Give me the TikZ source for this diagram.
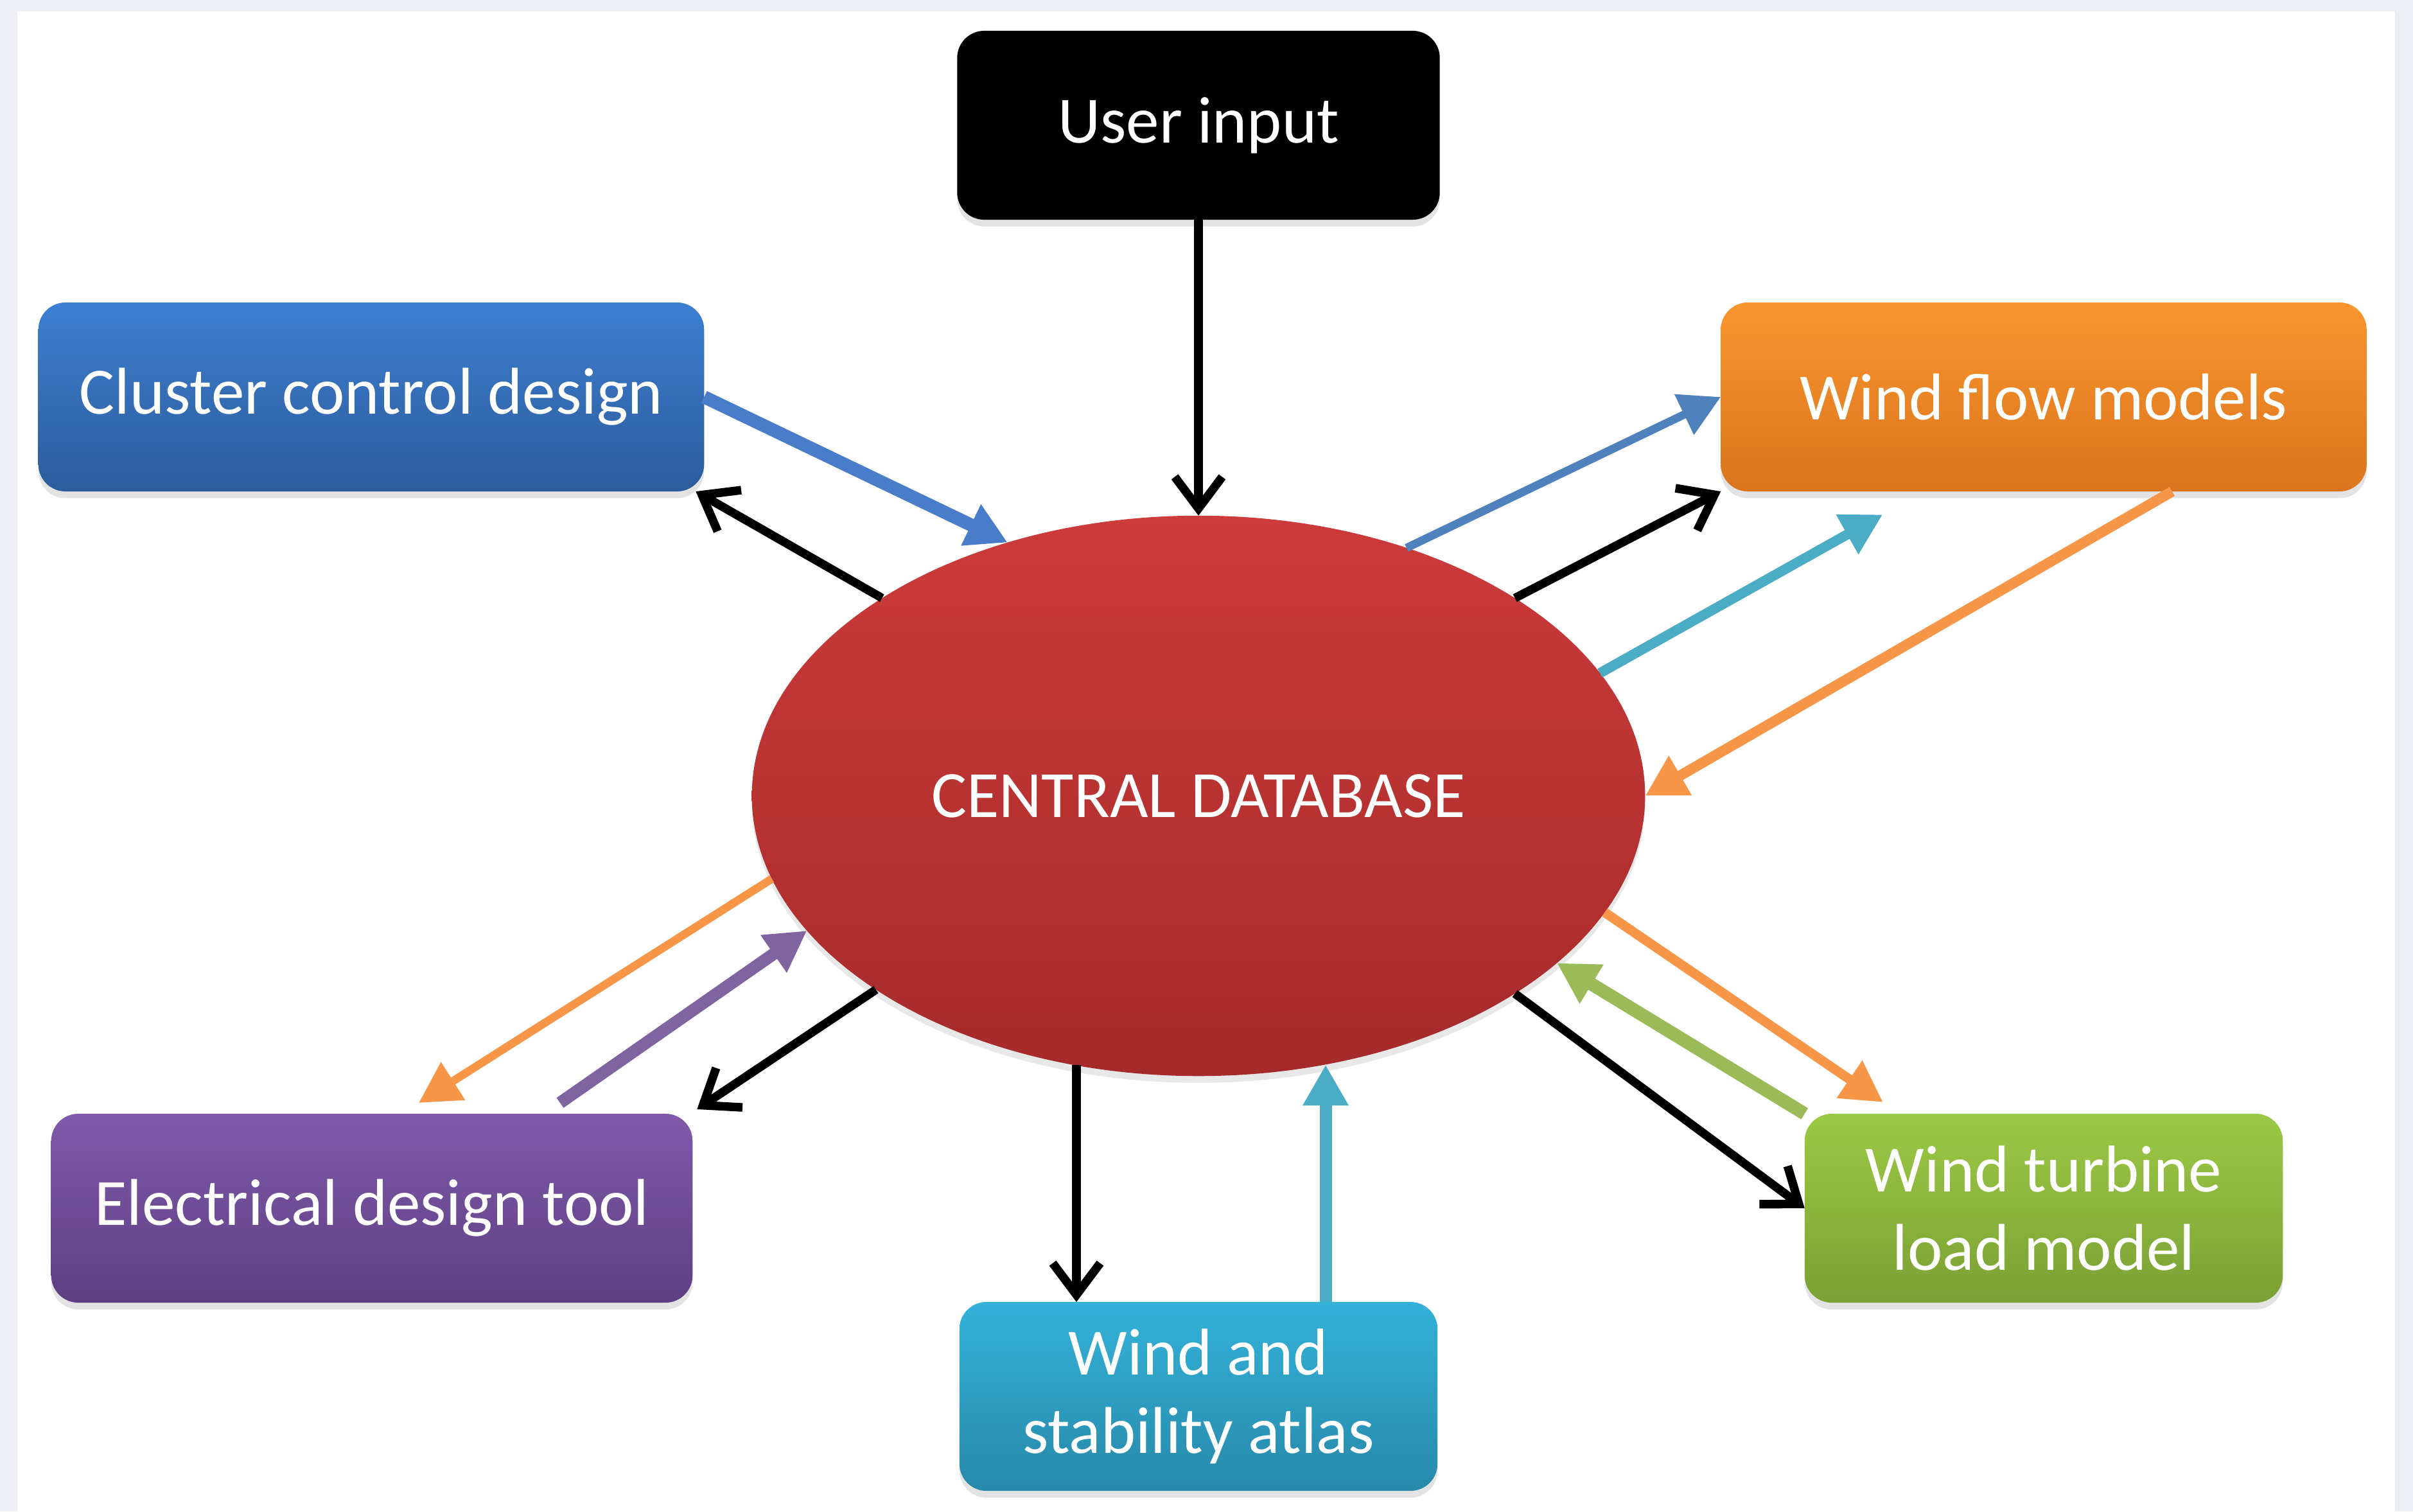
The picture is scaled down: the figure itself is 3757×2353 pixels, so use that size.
\documentclass[tikz,border=0pt]{standalone}
\usepackage{fontspec}
\setmainfont{Carlito}
\usetikzlibrary{arrows.meta,calc,shapes.geometric,shadows}
\definecolor{bgray}{HTML}{EDEFF4}
\definecolor{clT}{HTML}{3D7FD1}\definecolor{clB}{HTML}{2C5C9C}
\definecolor{wfT}{HTML}{F9962F}\definecolor{wfB}{HTML}{DB741D}
\definecolor{elT}{HTML}{7F5AAA}\definecolor{elB}{HTML}{5D3F82}
\definecolor{atT}{HTML}{34B2DA}\definecolor{atB}{HTML}{2789A9}
\definecolor{tbT}{HTML}{9CC945}\definecolor{tbB}{HTML}{7BA034}
\definecolor{dbT}{HTML}{CD3B3B}\definecolor{dbB}{HTML}{A52A2A}
\definecolor{aBlue}{HTML}{4A7DC9}
\definecolor{aSteel}{HTML}{4F81BD}
\definecolor{aCyan}{HTML}{4BACC6}
\definecolor{aOrange}{HTML}{F79646}
\definecolor{aPurple}{HTML}{8064A2}
\definecolor{aGreen}{HTML}{9BBB59}
\begin{document}
\begin{tikzpicture}[x=0.01cm,y=-0.01cm,
  txt/.style={text=white, font=\fontsize{29.3}{34.5}\selectfont, align=center},
  box/.style={txt, rectangle, rounded corners=12pt, inner sep=0pt, outer sep=0pt,
    minimum height=2.94cm,
    drop shadow={opacity=0.22, shadow xshift=0pt, shadow yshift=-3pt}},
  blk/.style={draw=black, line width=3.8pt, -{Straight Barb[length=14pt,width=21pt]}},
  colarrow/.style={line width=#1, -{Triangle[length=18pt,width=19pt]}},
  colarrow/.default=4.4pt]
\fill[bgray] (0,0) rectangle (3757,2353);
\fill[white] (27,18) rectangle (3729,2353);
\useasboundingbox (0,0) rectangle (3757,2353);

% nodes
\node[box, minimum width=7.51cm, fill=black] (ui) at (1866,195) {User input};
\node[box, minimum width=10.36cm, top color=clT, bottom color=clB] (cl) at (578,618) {Cluster control design};
\node[box, minimum width=10.05cm, top color=wfT, bottom color=wfB] (wf) at (3182,618) {Wind flow models};
\node[box, minimum width=9.98cm, top color=elT, bottom color=elB] (el) at (579,1881) {Electrical design tool};
\node[box, minimum width=7.44cm, top color=atT, bottom color=atB] (at) at (1866,2174) {Wind and\\stability atlas};
\node[box, minimum width=7.44cm, top color=tbT, bottom color=tbB] (tb) at (3182,1881) {Wind turbine\\load model};
\node[txt, ellipse, minimum width=13.9cm, minimum height=8.72cm, inner sep=0pt, outer sep=0pt,
  top color=dbT, bottom color=dbB,
  drop shadow={opacity=0.18, shadow xshift=0pt, shadow yshift=-3pt}] (db) at (1866,1239) {CENTRAL DATABASE};

% helper coordinates
\coordinate (atL) at ($(at.north)+(-190,0)$);
\coordinate (atR) at ($(at.north)+(198,0)$);

% connectors
\draw[blk] (ui.south) -- (db.north);
\draw[colarrow=5.8pt, aBlue] (cl.east) -- (db.127);
\draw[blk] (db.148) -- ($(cl.south east)+(-13,0)$);
\draw[colarrow=3.6pt, aSteel] (db.50) -- (wf.west);
\draw[blk] (db.32) -- (wf.south west);
\draw[colarrow=4.4pt, aCyan] (db.17) -- ($(wf.south west)+(252,36)$);
\draw[colarrow=4.6pt, aOrange] ($(wf.south)+(200,0)$) -- (db.east);
\draw[colarrow=3.6pt, aOrange] (db.191) -- ($(el.north)+(73,-17)$);
\draw[colarrow=5.4pt, aPurple] ($(el.north)+(293,-17)$) -- (db.199.5);
\draw[blk] (db.211.5) -- ($(el.north east)+(7,-7)$);
\draw[blk] (atL |- db.245) -- (atL);
\draw[colarrow=5.4pt, aCyan] (atR) -- (atR |- db.295);
\draw[colarrow=4.2pt, aOrange] (db.344) -- ($(tb.north west)+(122,-18)$);
\draw[colarrow=5.8pt, aGreen] (tb.north west) -- (db.335);
\draw[blk] (db.328) -- (tb.west);
\end{tikzpicture}
\end{document}
